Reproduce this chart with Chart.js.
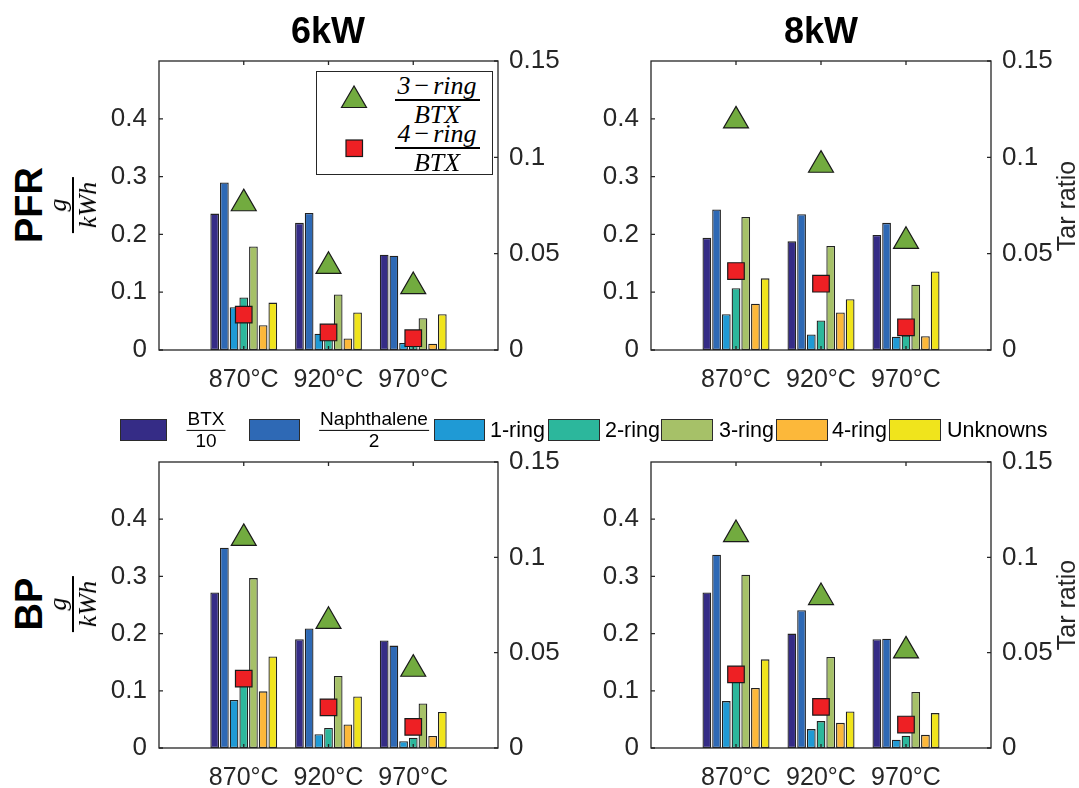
<!DOCTYPE html>
<html>
<head>
<meta charset="utf-8">
<script src="https://cdn.jsdelivr.net/npm/chart.js@4.4.1/dist/chart.umd.min.js"></script>
<style>
  html, body { margin: 0; padding: 0; background: #fff; }
  body { width: 1079px; height: 788px; position: relative; overflow: hidden;
         font-family: "Liberation Sans", Arial, Helvetica, sans-serif; color: #262626; }
  canvas { position: absolute; }
  .title { position: absolute; transform: translate(-50%, -50%); font-weight: bold; font-size: 36px; color: #000; white-space: nowrap; }
  .rowlab { position: absolute; transform: translate(-50%, -50%) rotate(-90deg); font-weight: bold; font-size: 38px; color: #000; }
  .ylab { position: absolute; transform: translate(-50%, -50%) rotate(-90deg); font-size: 25px; white-space: nowrap; }
  .unit { position: absolute; transform: translate(-50%, -50%) rotate(-90deg); display: flex; flex-direction: column;
          font-family: "Liberation Serif", "DejaVu Serif", serif; font-style: italic; font-size: 26px; line-height: 1; color: #000; }
  .unit > div { text-align: center; padding: 0 5px; }
  .unit .num { border-bottom: 2px solid #000; padding-bottom: 1px; }
  .unit .den { padding-top: 1px; }
  .lbox { position: absolute; border: 1.3px solid #262626; background: #fff; box-sizing: border-box; }
  .mfrac { position: absolute; font-family: "Liberation Serif", "DejaVu Serif", serif; font-style: italic; font-size: 26px;
           line-height: 1; color: #000; white-space: nowrap; transform: translateX(-50%); }
  .mfrac .op { font-style: normal; margin: 0 4px; }
  .mline { position: absolute; height: 2px; background: #000; }
  .sw { position: absolute; top: 419px; height: 22px; border: 1px solid #2b2b2b; box-sizing: border-box; }
  .lt { position: absolute; top: 430px; transform: translateY(-50%); font-size: 21.5px; color: #000; white-space: nowrap; }
  .sfrac { position: absolute; top: 430px; transform: translate(-50%, -50%); display: flex; flex-direction: column;
           font-size: 19px; line-height: 0.98; color: #000; }
  .sfrac > div { text-align: center; padding: 0 1px; }
  .sfrac .num { border-bottom: 1.5px solid #000; padding-bottom: 1px; }
  .sfrac .den { padding-top: 1px; }
</style>
</head>
<body>
<canvas id="pfr6"></canvas>
<canvas id="pfr8"></canvas>
<canvas id="bp6"></canvas>
<canvas id="bp8"></canvas>

<div class="title" style="left:328px;top:31px">6kW</div>
<div class="title" style="left:821px;top:31px">8kW</div>

<div class="rowlab" style="left:29px;top:205px">PFR</div>
<div class="rowlab" style="left:29px;top:604px">BP</div>
<div class="unit" style="left:73px;top:205px"><div class="num">g</div><div class="den">kWh</div></div>
<div class="unit" style="left:73px;top:604px"><div class="num">g</div><div class="den">kWh</div></div>

<div class="ylab" style="left:1066px;top:206px">Tar ratio</div>
<div class="ylab" style="left:1066px;top:605px">Tar ratio</div>

<!-- marker legend inside the PFR 6kW panel -->
<div class="lbox" style="left:316px;top:71px;width:177px;height:104px"></div>
<svg style="position:absolute;left:0;top:0" width="1079" height="788">
  <polygon points="354,86 341.5,107.5 366.5,107.5" fill="#72ab3f" stroke="#1a1a1a" stroke-width="1.2"/>
  <rect x="346" y="140" width="16.5" height="16.5" fill="#ee2024" stroke="#1a1a1a" stroke-width="1.2"/>
</svg>
<div class="mfrac" style="left:437px;top:73px">3<span class="op">−</span>ring</div>
<div class="mline" style="left:395px;top:99px;width:85px"></div>
<div class="mfrac" style="left:437px;top:102px">BTX</div>
<div class="mfrac" style="left:437px;top:121px">4<span class="op">−</span>ring</div>
<div class="mline" style="left:395px;top:147px;width:85px"></div>
<div class="mfrac" style="left:437px;top:150px">BTX</div>

<!-- series legend -->
<div id="legend"></div>

<script>
// categories
const temps = ["870°C", "920°C", "970°C"];
const seriesNames = ["BTX/10", "Naphthalene/2", "1-ring", "2-ring", "3-ring", "4-ring", "Unknowns"];
const seriesColors = ["#352c86", "#2e69b5", "#1f9ad5", "#2cb79c", "#a6c168", "#fcb83a", "#f0e41c"];

// bars, g/kWh, one row per series: [870, 920, 970]
const pfr6Bars = [
  [0.236, 0.220, 0.165],
  [0.290, 0.237, 0.163],
  [0.074, 0.028, 0.012],
  [0.091, 0.025, 0.010],
  [0.179, 0.096, 0.055],
  [0.043, 0.020, 0.011],
  [0.082, 0.065, 0.062]
];
const pfr8Bars = [
  [0.194, 0.188, 0.199],
  [0.243, 0.235, 0.220],
  [0.062, 0.027, 0.023],
  [0.107, 0.051, 0.025],
  [0.230, 0.180, 0.113],
  [0.080, 0.065, 0.024],
  [0.124, 0.088, 0.136]
];
const bp6Bars = [
  [0.272, 0.190, 0.188],
  [0.350, 0.209, 0.179],
  [0.084, 0.024, 0.012],
  [0.115, 0.035, 0.018],
  [0.297, 0.126, 0.078],
  [0.099, 0.041, 0.021],
  [0.160, 0.090, 0.063]
];
const bp8Bars = [
  [0.272, 0.200, 0.190],
  [0.338, 0.241, 0.191],
  [0.082, 0.033, 0.0145],
  [0.120, 0.047, 0.0215],
  [0.303, 0.159, 0.098],
  [0.105, 0.044, 0.023],
  [0.155, 0.064, 0.061]
];

// tar ratios (right axis)
const pfr6Ring3 = [0.076, 0.0435, 0.033];
const pfr6Ring4 = [0.0184, 0.0091, 0.0061];
const pfr8Ring3 = [0.119, 0.096, 0.0565];
const pfr8Ring4 = [0.041, 0.0344, 0.0118];
const bp6Ring3 = [0.110, 0.0665, 0.0414];
const bp6Ring4 = [0.0364, 0.0213, 0.0111];
const bp8Ring3 = [0.112, 0.079, 0.051];
const bp8Ring4 = [0.0386, 0.0216, 0.0123];

// axis ticks
const leftTicks = [0, 0.1, 0.2, 0.3, 0.4];
const rightTicks = [0, 0.05, 0.1, 0.15];

const ink = "#262626";
const fontFamily = "'Liberation Sans', Arial, Helvetica, sans-serif";
const yFont = { family: fontFamily, size: 26 };
const xFont = { family: fontFamily, size: 25 };

function fmt(v) {
  return String(Number(Number(v).toFixed(2)));
}

// box with inward tick marks, drawn over the bars
const framePlugin = {
  id: "frame",
  afterDatasetsDraw(chart) {
    const { ctx, chartArea: a, scales } = chart;
    ctx.save();
    ctx.strokeStyle = ink;
    ctx.lineWidth = 1.3;
    ctx.strokeRect(a.left, a.top, a.width, a.height);
    ctx.beginPath();
    temps.forEach((t, i) => {
      const x = scales.x.getPixelForValue(i + 1);
      ctx.moveTo(x, a.bottom); ctx.lineTo(x, a.bottom - 4);
      ctx.moveTo(x, a.top); ctx.lineTo(x, a.top + 4);
    });
    leftTicks.forEach((v) => {
      const y = scales.y.getPixelForValue(v);
      ctx.moveTo(a.left, y); ctx.lineTo(a.left + 4, y);
    });
    rightTicks.forEach((v) => {
      const y = scales.y2.getPixelForValue(v);
      ctx.moveTo(a.right, y); ctx.lineTo(a.right - 4, y);
    });
    ctx.stroke();
    ctx.restore();
  },
};

function makePanel(id, box, bars, ring3, ring4) {
  const padL = 80, padR = 80, padT = 20, padB = 55;
  const canvas = document.getElementById(id);
  canvas.width = box.w + padL + padR;
  canvas.height = box.h + padT + padB;
  canvas.style.left = box.x - padL + "px";
  canvas.style.top = box.y - padT + "px";

  const datasets = bars.map((vals, k) => ({
    type: "bar",
    label: seriesNames[k],
    data: vals.map((v, i) => ({ x: i + 1, y: v })),
    backgroundColor: seriesColors[k],
    borderColor: "#222",
    borderWidth: 1.3,
    borderSkipped: false,
    categoryPercentage: 0.8,
    barPercentage: 0.9,
    yAxisID: "y",
    order: 1,
  }));
  datasets.push({
    type: "scatter",
    label: "3-ring/BTX",
    data: ring3.map((v, i) => ({ x: i + 1, y: v })),
    yAxisID: "y2",
    pointStyle: "triangle",
    pointRadius: 14.4,
    pointBackgroundColor: "#72ab3f",
    pointBorderColor: "#1a1a1a",
    pointBorderWidth: 1.2,
    order: 0,
  });
  datasets.push({
    type: "scatter",
    label: "4-ring/BTX",
    data: ring4.map((v, i) => ({ x: i + 1, y: v })),
    yAxisID: "y2",
    pointStyle: "rect",
    pointRadius: 11.7,
    pointBackgroundColor: "#ee2024",
    pointBorderColor: "#1a1a1a",
    pointBorderWidth: 1.2,
    order: 0,
  });

  return new Chart(canvas, {
    type: "bar",
    data: { datasets: datasets },
    options: {
      responsive: false,
      animation: false,
      layout: { padding: { top: padT, left: 0, right: 0, bottom: 0 } },
      plugins: { legend: { display: false }, tooltip: { enabled: false } },
      scales: {
        x: {
          type: "linear",
          min: 0,
          max: 4,
          offset: false,
          grid: { display: false, drawTicks: false },
          border: { display: false },
          afterBuildTicks: (s) => { s.ticks = temps.map((t, i) => ({ value: i + 1 })); },
          ticks: { callback: (v) => temps[v - 1] || "", font: xFont, color: ink, padding: 15, maxRotation: 0, autoSkip: false },
          afterFit: (s) => { s.height = padB; s.paddingLeft = 0; s.paddingRight = 0; },
        },
        y: {
          position: "left",
          min: 0,
          max: 0.5,
          grid: { display: false, drawTicks: false },
          border: { display: false },
          afterBuildTicks: (s) => { s.ticks = leftTicks.map((v) => ({ value: v })); },
          ticks: { callback: fmt, font: yFont, color: ink, padding: 12 },
          afterFit: (s) => { s.width = padL; s.paddingTop = 0; s.paddingBottom = 0; },
        },
        y2: {
          position: "right",
          min: 0,
          max: 0.15,
          grid: { display: false, drawTicks: false },
          border: { display: false },
          afterBuildTicks: (s) => { s.ticks = rightTicks.map((v) => ({ value: v })); },
          ticks: { callback: fmt, font: yFont, color: ink, padding: 11 },
          afterFit: (s) => { s.width = padR; s.paddingTop = 0; s.paddingBottom = 0; },
        },
      },
    },
    plugins: [framePlugin],
  });
}

makePanel("pfr6", { x: 159, y: 61, w: 339, h: 289 }, pfr6Bars, pfr6Ring3, pfr6Ring4);
makePanel("pfr8", { x: 651, y: 61, w: 340, h: 289 }, pfr8Bars, pfr8Ring3, pfr8Ring4);
makePanel("bp6", { x: 159, y: 462, w: 339, h: 286 }, bp6Bars, bp6Ring3, bp6Ring4);
makePanel("bp8", { x: 651, y: 462, w: 340, h: 286 }, bp8Bars, bp8Ring3, bp8Ring4);

// series legend row between the two panel rows
const legendItems = [
  { sw: 120, w: 47, frac: ["BTX", "10"], at: 206 },
  { sw: 249, w: 51, frac: ["Naphthalene", "2"], at: 374 },
  { sw: 434, w: 51, text: 490 },
  { sw: 548, w: 52, text: 605 },
  { sw: 661, w: 52, text: 719 },
  { sw: 776, w: 52, text: 832 },
  { sw: 889, w: 52, text: 947 },
];
const legend = document.getElementById("legend");
legendItems.forEach((it, k) => {
  const sw = document.createElement("div");
  sw.className = "sw";
  sw.style.left = it.sw + "px";
  sw.style.width = it.w + "px";
  sw.style.background = seriesColors[k];
  legend.appendChild(sw);
  if (it.frac) {
    const f = document.createElement("div");
    f.className = "sfrac";
    f.style.left = it.at + "px";
    f.innerHTML = '<div class="num">' + it.frac[0] + '</div><div class="den">' + it.frac[1] + "</div>";
    legend.appendChild(f);
  } else {
    const t = document.createElement("div");
    t.className = "lt";
    t.style.left = it.text + "px";
    t.textContent = seriesNames[k];
    legend.appendChild(t);
  }
});
</script>
</body>
</html>
